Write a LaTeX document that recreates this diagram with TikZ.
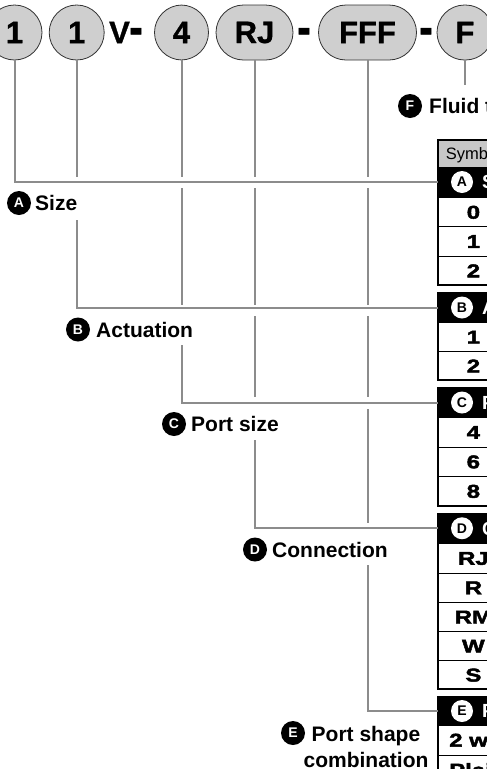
\documentclass[tikz,border=0pt]{standalone}
\usepackage{fontspec}
\setmainfont{Liberation Sans}
\newfontfamily\heavy{Liberation Sans}[FakeStretch=1.3,BoldFeatures={FakeBold=2.5}]
\newfontfamily\topfont{Liberation Sans}[BoldFeatures={FakeBold=1}]
\usetikzlibrary{calc}
\tikzset{
  pill/.style={draw=black!80, line width=0.8pt, fill=black!19, rounded corners=27.5pt,
    minimum height=55pt, inner sep=0pt, font=\topfont\bfseries\fontsize{31}{31}\selectfont},
  toptxt/.style={inner sep=0pt, font=\topfont\bfseries\fontsize{31}{31}\selectfont},
  hyph/.style={anchor=base, inner sep=0pt, font=\topfont\bfseries\fontsize{31}{31}\selectfont},
  ln/.style={draw=black!45, line width=2pt},
  badge/.style={circle, fill=black, text=white, minimum size=24pt, inner sep=0pt,
    font=\bfseries\fontsize{14}{14}\selectfont},
  lbl/.style={anchor=base west, inner sep=0pt, font=\bfseries\fontsize{21}{21}\selectfont},
  sym/.style={anchor=north west, minimum width=70pt, inner sep=0pt, draw=black, line width=0.8pt,
    font=\heavy\bfseries\fontsize{18.5}{18.5}\selectfont, text height=13.2pt, text depth=0pt},
  hdr/.style={anchor=north west, minimum width=160pt, fill=black, inner sep=0pt},
  tbadge/.style={circle, fill=white, minimum size=22pt, inner sep=0pt,
    font=\bfseries\fontsize{14}{14}\selectfont},
  ttl/.style={anchor=west, inner sep=0pt, text=white, font=\bfseries\fontsize{19}{19}\selectfont,
    text height=13.6pt, text depth=0pt},
  blk/.style={draw=black, line width=2pt},
  free/.style={anchor=west, inner sep=0pt, font=\heavy\bfseries\fontsize{18.5}{18.5}\selectfont,
    text height=13.2pt, text depth=0pt},
}
\begin{document}
\begin{tikzpicture}[x=1pt,y=-1pt]
\useasboundingbox (0,0) rectangle (487,769);
\clip (0,0) rectangle (487,769);

% top code row
\node[pill, minimum width=55pt] (c1) at (14.5,32.5) {1};
\node[pill, minimum width=55pt] (c2) at (76.7,32.5) {1};
\node[toptxt] (v) at (119.5,32.5) {V};
\node[hyph] (d1) at (136,45) {\scalebox{1.3}[1.7]{-}};
\node[pill, minimum width=54pt] (c4) at (181.5,32.5) {4};
\node[pill, minimum width=77pt] (rj) at (254.5,32.5) {RJ};
\node[hyph] (d2) at (304,45) {\scalebox{1.3}[1.7]{-}};
\node[pill, minimum width=98pt] (fff) at (367.5,32.5) {FFF};
\node[hyph] (d3) at (426,45) {\scalebox{1.3}[1.7]{-}};
\node[pill, minimum width=56pt] (f) at (465,32.5) {F};

% table blocks
\node[sym, fill=black!22, minimum height=27pt, font=\fontsize{16.5}{16.5}\selectfont, text height=11.8pt] (sy) at (438,140) {Symbol};
\node[hdr, minimum height=30pt] (hA) at (438,167) {};
\node[tbadge] (tA) at (462,182) {A};
\node[ttl] (ttA) at (482,182) {Size};
\node[sym, minimum height=29.3pt] (a0) at (438,197) {0};
\node[sym, minimum height=29.3pt] (a1) at (438,226.3) {1};
\node[sym, minimum height=29.4pt] (a2) at (438,255.6) {2};
\draw[blk] (438,140) rectangle (600,285);

\node[hdr, minimum height=29pt] (hB) at (438,293) {};
\node[tbadge] (tB) at (462,307.5) {B};
\node[ttl] (ttB) at (482,307.5) {Actuation};
\node[sym, minimum height=29pt] (b1) at (438,322) {1};
\node[sym, minimum height=29pt] (b2) at (438,351) {2};
\draw[blk] (438,293) rectangle (600,380);

\node[hdr, minimum height=29pt] (hC) at (438,388) {};
\node[tbadge] (tC) at (462,402.5) {C};
\node[ttl] (ttC) at (482,402.5) {Port size};
\node[sym, minimum height=29.5pt] (c4r) at (438,417) {4};
\node[sym, minimum height=29.5pt] (c6r) at (438,446.5) {6};
\node[sym, minimum height=29.5pt] (c8r) at (438,476) {8};
\draw[blk] (438,388) rectangle (600,505.5);

\node[hdr, minimum height=29.5pt] (hD) at (438,513.5) {};
\node[tbadge] (tD) at (462,528.25) {D};
\node[ttl] (ttD) at (482,528.25) {Connection};
\node[sym, minimum height=29.5pt] (dRJ) at (438,543) {RJ};
\node[sym, minimum height=29.5pt] (dR) at (438,572.5) {R};
\node[sym, minimum height=29pt] (dRM) at (438,602) {RM};
\node[sym, minimum height=29pt] (dW) at (438,631) {W};
\node[sym, minimum height=29pt] (dS) at (438,660) {S};
\draw[blk] (438,513.5) rectangle (600,689);

\node[hdr, minimum height=28pt] (hE) at (438,697) {};
\node[tbadge] (tE) at (462,711) {E};
\node[ttl] (ttE) at (482,711) {Port shape combination};
\node[sym, minimum width=200pt, minimum height=30pt] (e1) at (438,725) {};
\node[free] (e1t) at (449,740) {2 way};
\node[sym, minimum width=200pt, minimum height=30pt] (e2) at (438,755) {};
\node[free] (e2t) at (449,770) {Plain};
\draw[blk] (438,697) rectangle (600,785);

% labels
\node[badge] (bA) at (19,203) {A};
\node[lbl] (lA) at (35,210.5) {Size};
\node[badge] (bB) at (78,329.5) {B};
\node[lbl] (lB) at (96,337) {Actuation};
\node[badge] (bC) at (174,424) {C};
\node[lbl] (lC) at (191,431.5) {Port size};
\node[badge] (bD) at (255,549.5) {D};
\node[lbl] (lD) at (272,557) {Connection};
\node[badge] (bE) at (293,733) {E};
\node[lbl, anchor=base] (lE1) at (366,741.5) {Port shape};
\node[lbl, anchor=base] (lE2) at (366,767.5) {combination};
\node[badge] (bF) at (410,106) {F};
\node[lbl] (lF) at (429,113.5) {Fluid type};

% connectors
\draw[ln] (c1.south) |- (hA.west);
\draw[ln] (c2.south) -- (c2.south |- 0,176.5);
\draw[ln] (c2.south |- 0,220) |- (hB.west);
\draw[ln] (c4.south) -- (c4.south |- 0,176.5);
\draw[ln] (c4.south |- 0,188) -- (c4.south |- 0,304.5);
\draw[ln] (c4.south |- 0,345) |- (hC.west);
\draw[ln] (rj.south) -- (rj.south |- 0,176.5);
\draw[ln] (rj.south |- 0,188) -- (rj.south |- 0,304.5);
\draw[ln] (rj.south |- 0,316) -- (rj.south |- 0,397);
\draw[ln] (rj.south |- 0,440) |- (hD.west);
\draw[ln] (fff.south) -- (fff.south |- 0,176.5);
\draw[ln] (fff.south |- 0,188) -- (fff.south |- 0,304.5);
\draw[ln] (fff.south |- 0,316) -- (fff.south |- 0,397);
\draw[ln] (fff.south |- 0,409) -- (fff.south |- 0,522.5);
\draw[ln] (fff.south |- 0,565) |- (hE.west);
\draw[ln] (f.south) -- (f.south |- 0,85);
\end{tikzpicture}
\end{document}
